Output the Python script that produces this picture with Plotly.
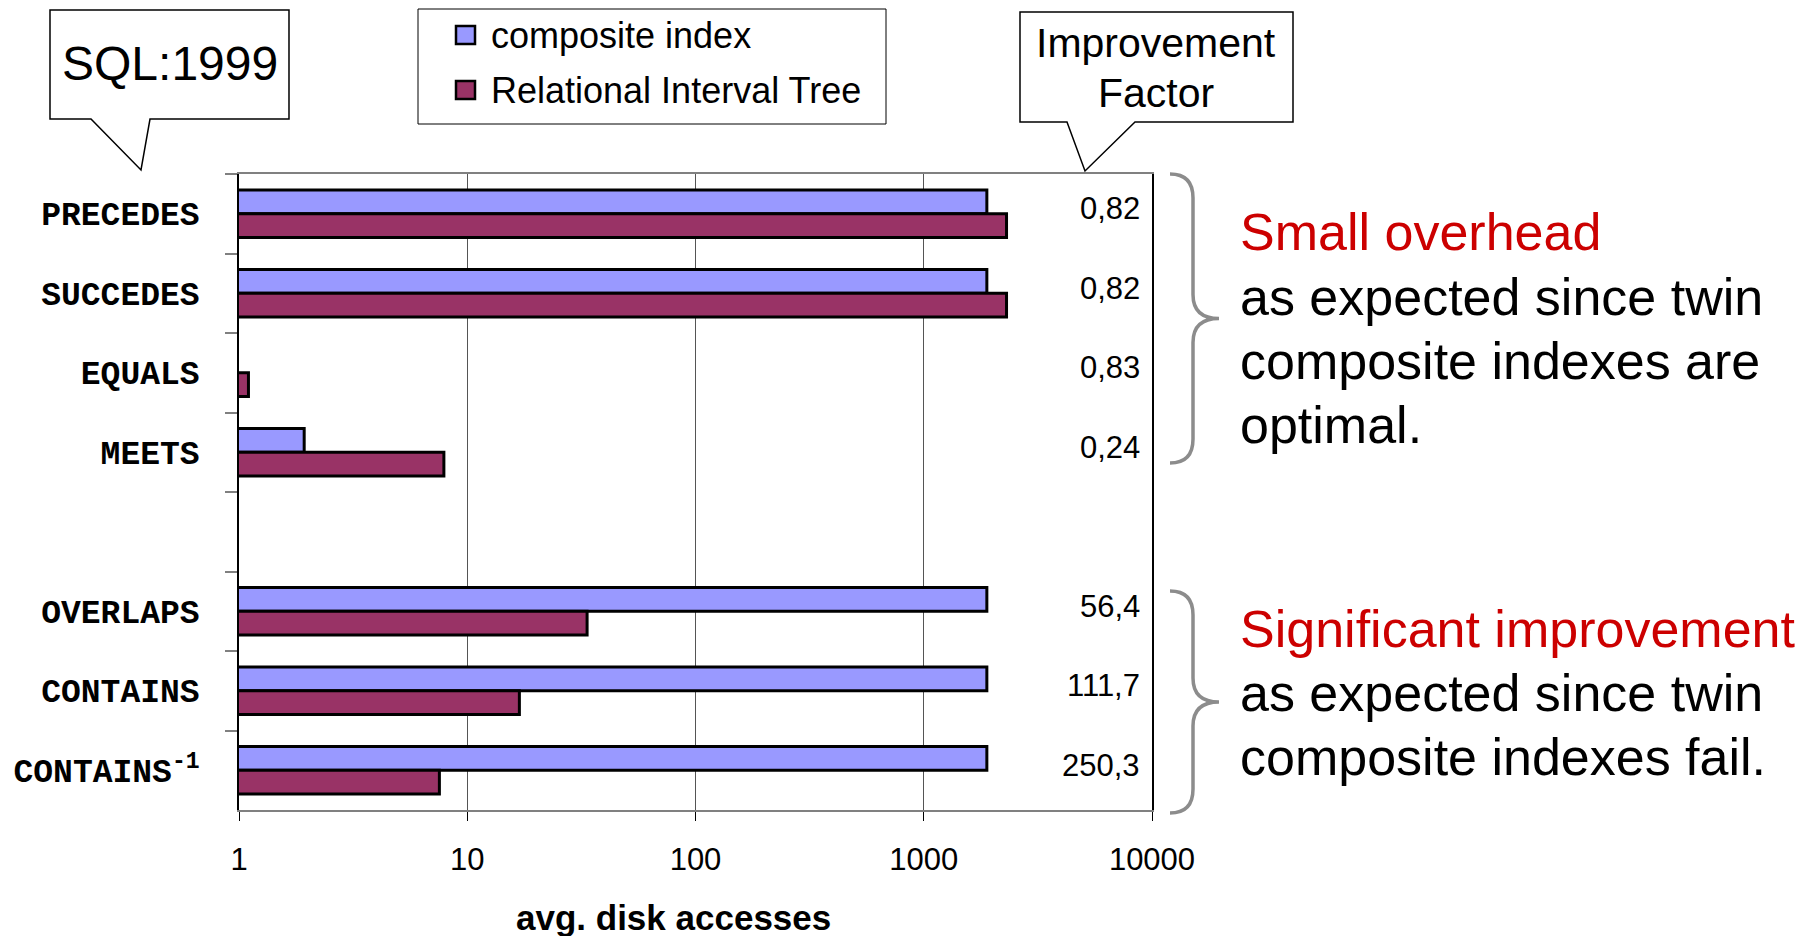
import plotly.graph_objects as go

# ---- data -------------------------------------------------------------
categories = ["PRECEDES", "SUCCEDES", "EQUALS", "MEETS", " ",
              "OVERLAPS", "CONTAINS", "CONTAINS<sup>-1</sup>"]
composite_index = [1890, 1890, 0.91, 1.93, None, 1890, 1890, 1890]
interval_tree = [2305, 2305, 1.1, 7.9, None, 33.5, 16.92, 7.55]
improvement_labels = ["0,82", "0,82", "0,83", "0,24", "", "56,4", "111,7", "250,3"]
x_tick_values = [1, 10, 100, 1000, 10000]
x_tick_labels = ["1", "10", "100", "1000", "10000"]
series_names = ["composite index", "Relational Interval Tree"]
series_colors = ["#9999FF", "#993366"]

# ---- page geometry (pixels) ------------------------------------------
W, H = 1820, 936
PL, PR, PT, PB = 239, 1152, 174, 810   # plot area edges

SANS = "Arial, 'Liberation Sans', sans-serif"
MONO = "'Courier New', 'Liberation Mono', monospace"


def px(x):
    return (x - PL) / (PR - PL)


def py(y):
    return (PB - y) / (PB - PT)


def path(points, close=True):
    s = "M " + " L ".join(f"{px(x):.5f},{py(y):.5f}" for x, y in points)
    return s + (" Z" if close else "")


def brace(x0, xm, xt, y0, y1, r=24):
    ym = (y0 + y1) / 2
    p = lambda x, y: f"{px(x):.5f},{py(y):.5f}"
    return (f"M {p(x0, y0)} Q {p(xm, y0)} {p(xm, y0 + r)} "
            f"L {p(xm, ym - r)} Q {p(xm, ym)} {p(xt, ym)} "
            f"Q {p(xm, ym)} {p(xm, ym + r)} "
            f"L {p(xm, y1 - r)} Q {p(xm, y1)} {p(x0, y1)}")


def label(x, y, text, size, color="black", xanchor="center", weight="normal"):
    return dict(x=px(x), y=py(y), xref="paper", yref="paper", text=text,
                showarrow=False, xanchor=xanchor, yanchor="middle",
                font=dict(family=SANS, size=size, color=color, weight=weight))


fig = go.Figure()
for name, vals, col in zip(series_names, [composite_index, interval_tree], series_colors):
    fig.add_trace(go.Bar(
        y=categories, x=vals, name=name, orientation="h",
        marker=dict(color=col, line=dict(color="black", width=3)),
        showlegend=False,
    ))

shapes = []
annotations = []

# callout boxes
shapes.append(dict(type="path", xref="paper", yref="paper",
                   path=path([(50, 10), (289, 10), (289, 119), (150, 119),
                              (141, 170), (91, 119), (50, 119)]),
                   fillcolor="white", line=dict(color="black", width=1.5)))
shapes.append(dict(type="path", xref="paper", yref="paper",
                   path=path([(1020, 12), (1293, 12), (1293, 122), (1135, 122),
                              (1085, 171), (1067, 122), (1020, 122)]),
                   fillcolor="white", line=dict(color="black", width=1.5)))
annotations.append(label(169.5, 64, "SQL:1999", 48))
annotations.append(label(1156, 43, "Improvement", 41))
annotations.append(label(1156, 93, "Factor", 41))

# legend box
shapes.append(dict(type="rect", xref="paper", yref="paper",
                   x0=px(418), x1=px(886), y0=py(9), y1=py(124),
                   fillcolor="white", line=dict(color="black", width=1)))
for i, (name, col) in enumerate(zip(series_names, series_colors)):
    cy = 35 + 55 * i
    shapes.append(dict(type="rect", xref="paper", yref="paper",
                       x0=px(456), x1=px(475), y0=py(cy - 9), y1=py(cy + 9),
                       fillcolor=col, line=dict(color="black", width=2.5)))
    annotations.append(label(489, cy, name, 36, xanchor="left"))

# improvement factors
for cat, lab in zip(categories, improvement_labels):
    if lab:
        annotations.append(dict(x=px(1142), y=cat, xref="paper", yref="y",
                                text=lab, showarrow=False, xanchor="right",
                                yanchor="middle", yshift=5,
                                font=dict(family=SANS, size=31, color="black")))

# braces
shapes.append(dict(type="path", xref="paper", yref="paper",
                   path=brace(1170, 1193, 1219, 174, 463),
                   line=dict(color="#8c8c8c", width=3.5)))
shapes.append(dict(type="path", xref="paper", yref="paper",
                   path=brace(1170, 1193, 1219, 591, 813),
                   line=dict(color="#8c8c8c", width=3.5)))

# side notes
notes = [
    (232, "Small overhead", "#CC0000"),
    (297, "as expected since twin", "black"),
    (361, "composite indexes are", "black"),
    (425, "optimal.", "black"),
    (629, "Significant improvement", "#CC0000"),
    (693, "as expected since twin", "black"),
    (757, "composite indexes fail.", "black"),
]
for y, txt, col in notes:
    annotations.append(label(1238, y, txt, 52, color=col, xanchor="left"))

# x-axis title
annotations.append(label(673, 917, "avg. disk accesses", 35, weight="bold"))

fig.update_layout(
    width=W, height=H, autosize=False,
    margin=dict(l=PL, r=W - PR, t=PT, b=H - PB, pad=0),
    paper_bgcolor="white", plot_bgcolor="white",
    barmode="group", bargap=0.4, bargroupgap=0,
    showlegend=False,
    shapes=shapes, annotations=annotations,
    xaxis=dict(
        type="log", range=[0, 4],
        tickvals=x_tick_values, ticktext=x_tick_labels,
        showgrid=True, gridcolor="#555555", gridwidth=1,
        showline=True, linecolor="#808080", linewidth=2, mirror=True,
        ticks="outside", ticklen=9, tickcolor="black", tickwidth=1,
        tickfont=dict(family=SANS, size=31, color="black"),
        ticklabelstandoff=12,
        zeroline=False,
    ),
    yaxis=dict(
        type="category", categoryorder="array", categoryarray=categories,
        autorange="reversed",
        showgrid=False, showline=True, linecolor="black", linewidth=1.5, mirror=True,
        ticks="outside", tickson="boundaries", ticklen=12, tickcolor="#808080", tickwidth=2,
        tickfont=dict(family=MONO, size=33, color="black", weight="bold"),
        ticklabelstandoff=31,
    ),
)

fig.write_html("out.html")
